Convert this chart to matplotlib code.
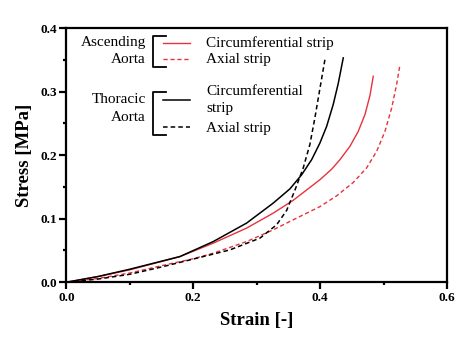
import matplotlib
matplotlib.use('Agg')
import matplotlib.pyplot as plt
from matplotlib.ticker import MultipleLocator

plt.rcParams['font.family'] = ['Liberation Serif', 'DejaVu Serif']

# Thoracic aorta, circumferential strip
tc_strain = [0, 0.05, 0.1, 0.179, 0.2315, 0.2841, 0.3261, 0.3524, 0.3709, 0.3866, 0.3997, 0.4103, 0.4207, 0.4286, 0.4365]
tc_stress = [0, 0.009, 0.0205, 0.0404, 0.064, 0.0931, 0.1246, 0.1470, 0.1692, 0.1929, 0.2192, 0.2454, 0.2800, 0.3130, 0.3533]
# Thoracic aorta, axial strip
ta_strain = [0, 0.05, 0.1, 0.15, 0.2053, 0.2578, 0.3051, 0.3314, 0.3472, 0.3603, 0.3734, 0.3839, 0.3918, 0.3997, 0.4076]
ta_stress = [0, 0.005, 0.0125, 0.024, 0.0378, 0.0509, 0.0694, 0.0904, 0.113, 0.145, 0.180, 0.2170, 0.2590, 0.3050, 0.3506]
# Ascending aorta, circumferential strip
ac_strain = [0, 0.05, 0.1, 0.179, 0.2315, 0.2841, 0.3261, 0.3576, 0.3997, 0.4182, 0.4313, 0.447, 0.4601, 0.4707, 0.4786, 0.4838]
ac_stress = [0, 0.009, 0.0195, 0.0404, 0.0615, 0.0852, 0.1088, 0.1290, 0.1614, 0.1780, 0.1930, 0.2140, 0.2375, 0.2639, 0.2940, 0.3243]
# Ascending aorta, axial strip
aa_strain = [0, 0.05, 0.1, 0.15, 0.2, 0.2315, 0.2841, 0.3261, 0.363, 0.3997, 0.426, 0.4522, 0.4733, 0.4891, 0.5022, 0.5128, 0.5206, 0.5259]
aa_stress = [0, 0.006, 0.0145, 0.026, 0.037, 0.0457, 0.064, 0.0825, 0.101, 0.119, 0.136, 0.157, 0.180, 0.206, 0.2375, 0.2744, 0.3112, 0.3427]

red = '#e8323c'
dash = (0, (3, 2))

fig = plt.figure(figsize=(4.74, 3.48), dpi=100)
ax = fig.add_axes([0.140, 0.189, 0.803, 0.730])

ax.plot(ac_strain, ac_stress, color=red, lw=1.0)
ax.plot(aa_strain, aa_stress, color=red, lw=1.0, linestyle=dash)
ax.plot(tc_strain, tc_stress, color='black', lw=1.1)
ax.plot(ta_strain, ta_stress, color='black', lw=1.1, linestyle=dash)

ax.set_xlim(0, 0.6)
ax.set_ylim(0, 0.4)
ax.xaxis.set_major_locator(MultipleLocator(0.2))
ax.xaxis.set_minor_locator(MultipleLocator(0.1))
ax.yaxis.set_major_locator(MultipleLocator(0.1))
ax.yaxis.set_minor_locator(MultipleLocator(0.05))
ax.xaxis.set_major_formatter(plt.FormatStrFormatter('%.1f'))
ax.yaxis.set_major_formatter(plt.FormatStrFormatter('%.1f'))
for s in ax.spines.values():
    s.set_linewidth(1.6)
ax.tick_params(which='major', direction='out', length=5, width=1.6, labelsize=9.5, pad=2)
ax.tick_params(which='minor', direction='out', length=2.5, width=1.6)
for lab in ax.get_xticklabels() + ax.get_yticklabels():
    lab.set_fontweight('bold')

ax.set_xlabel('Strain [-]', fontsize=13.5, fontweight='bold', labelpad=6)
ax.set_ylabel('Stress [MPa]', fontsize=13.5, fontweight='bold', labelpad=5)

# legend with brackets
tr = ax.transAxes
fs = 11
ax.text(0.209, 0.943, 'Ascending', transform=tr, ha='right', va='center', fontsize=fs)
ax.text(0.209, 0.875, 'Aorta', transform=tr, ha='right', va='center', fontsize=fs)
ax.plot([0.262, 0.2265, 0.2265, 0.262], [0.970, 0.970, 0.849, 0.849], color='black', lw=1.3, transform=tr)
ax.plot([0.2545, 0.324], [0.941, 0.941], color=red, lw=1.0, transform=tr)
ax.plot([0.2545, 0.324], [0.878, 0.878], color=red, lw=1.0, linestyle=dash, transform=tr)
ax.text(0.367, 0.941, 'Circumferential strip', transform=tr, ha='left', va='center', fontsize=fs)
ax.text(0.367, 0.878, 'Axial strip', transform=tr, ha='left', va='center', fontsize=fs)

ax.text(0.209, 0.718, 'Thoracic', transform=tr, ha='right', va='center', fontsize=fs)
ax.text(0.209, 0.647, 'Aorta', transform=tr, ha='right', va='center', fontsize=fs)
ax.plot([0.262, 0.2265, 0.2265, 0.262], [0.750, 0.750, 0.580, 0.580], color='black', lw=1.3, transform=tr)
ax.plot([0.2545, 0.324], [0.718, 0.718], color='black', lw=1.1, transform=tr)
ax.plot([0.2545, 0.324], [0.610, 0.610], color='black', lw=1.1, linestyle=dash, transform=tr)
ax.text(0.367, 0.750, 'Circumferential', transform=tr, ha='left', va='center', fontsize=fs)
ax.text(0.367, 0.682, 'strip', transform=tr, ha='left', va='center', fontsize=fs)
ax.text(0.367, 0.607, 'Axial strip', transform=tr, ha='left', va='center', fontsize=fs)

fig.savefig('out.png', dpi=100)
